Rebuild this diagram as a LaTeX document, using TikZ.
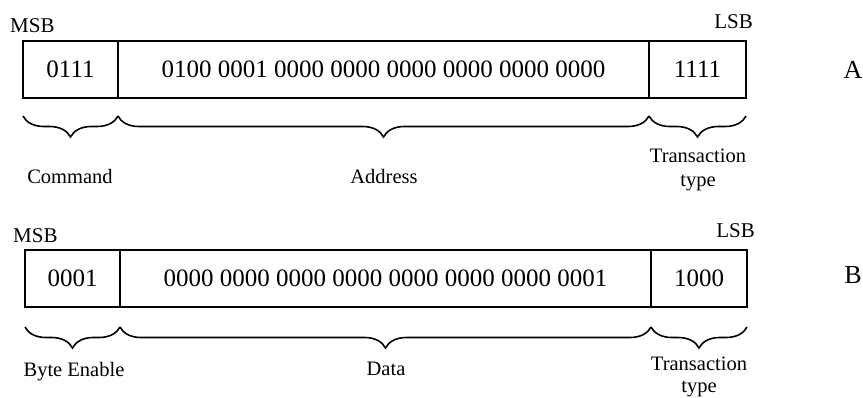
\documentclass[tikz,border=0pt]{standalone}
\usepackage{fontspec}
\setmainfont{Liberation Serif}
\usetikzlibrary{decorations.pathreplacing}
\begin{document}
\begin{tikzpicture}[x=1pt,y=-1pt,
  field/.style={draw,line width=1.5pt,inner sep=0pt,outer sep=0pt,anchor=north west,
    minimum height=57pt,font=\fontsize{25}{30}\selectfont},
  brc/.style={decorate,decoration={brace,mirror,amplitude=21pt},line width=1.6pt},
  lbl/.style={font=\fontsize{20.5}{24}\selectfont,inner sep=0pt,align=center},
  endlbl/.style={font=\fontsize{21}{24}\selectfont,inner sep=0pt},
  tag/.style={font=\fontsize{26}{30}\selectfont,inner sep=0pt}]
\useasboundingbox (0,0) rectangle (863,398);

% ---- word A: command / address / transaction type ----
\node[field,minimum width=95pt]  (cmdA)  at (23,41)  {0111};
\node[field,minimum width=531pt] (addrA) at (118,41) {0100 0001 0000 0000 0000 0000 0000 0000};
\node[field,minimum width=97pt]  (ttA)   at (649,41) {1111};
\node[endlbl,anchor=base west] (msbA) at (10,33) {MSB};
\node[endlbl,anchor=base east] (lsbA) at (753,29) {LSB};
\node[tag] (tagA) at (853,70) {A};

\draw[brc] ([yshift=-18pt]cmdA.south west)  -- ([yshift=-18pt]cmdA.south east);
\draw[brc] ([yshift=-18pt]addrA.south west) -- ([yshift=-18pt]addrA.south east);
\draw[brc] ([yshift=-18pt]ttA.south west)   -- ([yshift=-18pt]ttA.south east);

\node[lbl,anchor=base] (cmdLbl)  at (70,184)  {Command};
\node[lbl,anchor=base] (addrLbl) at (384,184) {Address};
\node[lbl,anchor=base,font=\fontsize{20.5}{24}\selectfont] (ttLblA) at (698,187) {Transaction\\type};

% ---- word B: byte enable / data / transaction type ----
\node[field,minimum width=95pt]  (beB)   at (25,250)  {0001};
\node[field,minimum width=531pt] (dataB) at (120,250) {0000 0000 0000 0000 0000 0000 0000 0001};
\node[field,minimum width=96pt]  (ttB)   at (651,250) {1000};
\node[endlbl,anchor=base west] (msbB) at (13,243) {MSB};
\node[endlbl,anchor=base east] (lsbB) at (755,238) {LSB};
\node[tag] (tagB) at (853,275) {B};

\draw[brc] ([yshift=-20pt]beB.south west)   -- ([yshift=-20pt]beB.south east);
\draw[brc] ([yshift=-20pt]dataB.south west) -- ([yshift=-20pt]dataB.south east);
\draw[brc] ([yshift=-20pt]ttB.south west)   -- ([yshift=-20pt]ttB.south east);

\node[lbl,anchor=base] (beLbl)   at (74,377)  {Byte Enable};
\node[lbl,anchor=base] (dataLbl) at (386,375) {Data};
\node[lbl,anchor=base,font=\fontsize{20.5}{22}\selectfont] (ttLblB) at (699,392) {Transaction\\type};
\end{tikzpicture}
\end{document}
